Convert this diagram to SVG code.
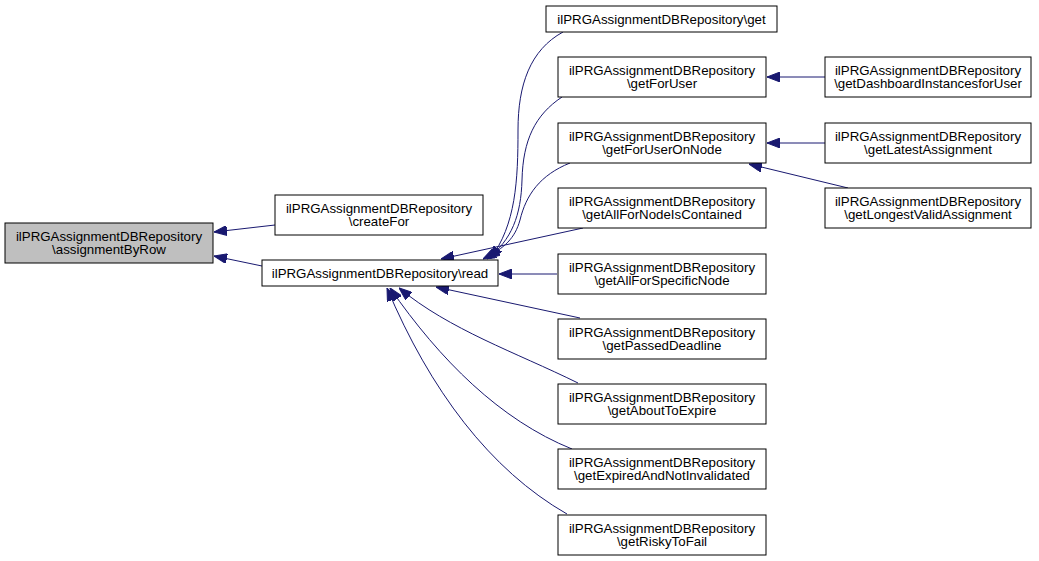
<svg xmlns="http://www.w3.org/2000/svg" width="1039" height="561" viewBox="0 0 1039 561">
<style>
.n rect{fill:#ffffff;stroke:#000000;stroke-width:1}
.n text{font-family:"Liberation Sans",Arial,sans-serif;font-size:13.3px;fill:#000;text-anchor:middle}
.e path{fill:none;stroke:#191970;stroke-width:1}
</style>
<defs>
<marker id="ah" viewBox="0 0 13 10" refX="13" refY="5" markerWidth="13" markerHeight="10" markerUnits="userSpaceOnUse" orient="auto">
<path d="M0,0 L13,5 L0,10 z" fill="#191970" stroke="#191970" stroke-width="1"/>
</marker>
</defs>
<rect width="1039" height="561" fill="#ffffff"/>
<g class="e" id="edges">
<path d="M275,225 L214,232" marker-end="url(#ah)"/>
<path d="M262,266 L214,256" marker-end="url(#ah)"/>
<path d="M563,32 C530,50 518,85 518,130 C518,180 516,225 490,259" marker-end="url(#ah)"/>
<path d="M562,97 C535,115 523,140 522,180 C521,215 512,240 487,259" marker-end="url(#ah)"/>
<path d="M570,163 C540,175 526,195 520,220 C515,238 505,248 483,259" marker-end="url(#ah)"/>
<path d="M583,228 L441,259" marker-end="url(#ah)"/>
<path d="M557,274 L499,274" marker-end="url(#ah)"/>
<path d="M580,318 L436,287" marker-end="url(#ah)"/>
<path d="M578,383 C515,352 450,330 399,288" marker-end="url(#ah)"/>
<path d="M572,449 C500,420 440,360 390,288" marker-end="url(#ah)"/>
<path d="M567,514 C490,470 430,390 387,288" marker-end="url(#ah)"/>
<path d="M825,77 L767,77" marker-end="url(#ah)"/>
<path d="M825,143 L767,143" marker-end="url(#ah)"/>
<path d="M848,188 L749,164" marker-end="url(#ah)"/>
</g>
<g class="n" id="node_assignmentByRow"><rect x="5" y="223" width="208" height="40" style="fill:#bfbfbf"/><text x="109" y="240.5">ilPRGAssignmentDBRepository</text><text x="109" y="254">\assignmentByRow</text></g>
<g class="n" id="node_createFor"><rect x="275" y="195" width="208" height="40"/><text x="379" y="212.5">ilPRGAssignmentDBRepository</text><text x="379" y="226">\createFor</text></g>
<g class="n" id="node_read"><rect x="262" y="260" width="236" height="26"/><text x="380" y="277.5">ilPRGAssignmentDBRepository\read</text></g>
<g class="n" id="node_get"><rect x="546" y="6" width="231" height="26"/><text x="661.5" y="23.5">ilPRGAssignmentDBRepository\get</text></g>
<g class="n" id="node_getForUser"><rect x="558" y="57" width="208" height="40"/><text x="662" y="74.5">ilPRGAssignmentDBRepository</text><text x="662" y="88">\getForUser</text></g>
<g class="n" id="node_getForUserOnNode"><rect x="558" y="123" width="208" height="40"/><text x="662" y="140.5">ilPRGAssignmentDBRepository</text><text x="662" y="154">\getForUserOnNode</text></g>
<g class="n" id="node_getAllForNodeIsContained"><rect x="558" y="188" width="208" height="40"/><text x="662" y="205.5">ilPRGAssignmentDBRepository</text><text x="662" y="219">\getAllForNodeIsContained</text></g>
<g class="n" id="node_getAllForSpecificNode"><rect x="558" y="254" width="208" height="40"/><text x="662" y="271.5">ilPRGAssignmentDBRepository</text><text x="662" y="285">\getAllForSpecificNode</text></g>
<g class="n" id="node_getPassedDeadline"><rect x="558" y="319" width="208" height="40"/><text x="662" y="336.5">ilPRGAssignmentDBRepository</text><text x="662" y="350">\getPassedDeadline</text></g>
<g class="n" id="node_getAboutToExpire"><rect x="558" y="384" width="208" height="40"/><text x="662" y="401.5">ilPRGAssignmentDBRepository</text><text x="662" y="415">\getAboutToExpire</text></g>
<g class="n" id="node_getExpiredAndNotInvalidated"><rect x="558" y="449" width="208" height="40"/><text x="662" y="466.5">ilPRGAssignmentDBRepository</text><text x="662" y="480">\getExpiredAndNotInvalidated</text></g>
<g class="n" id="node_getRiskyToFail"><rect x="558" y="515" width="208" height="40"/><text x="662" y="532.5">ilPRGAssignmentDBRepository</text><text x="662" y="546">\getRiskyToFail</text></g>
<g class="n" id="node_getDashboardInstancesforUser"><rect x="825" y="57" width="206" height="40"/><text x="928" y="74.5">ilPRGAssignmentDBRepository</text><text x="928" y="88">\getDashboardInstancesforUser</text></g>
<g class="n" id="node_getLatestAssignment"><rect x="825" y="123" width="206" height="40"/><text x="928" y="140.5">ilPRGAssignmentDBRepository</text><text x="928" y="154">\getLatestAssignment</text></g>
<g class="n" id="node_getLongestValidAssignment"><rect x="825" y="188" width="206" height="40"/><text x="928" y="205.5">ilPRGAssignmentDBRepository</text><text x="928" y="219">\getLongestValidAssignment</text></g>
</svg>
